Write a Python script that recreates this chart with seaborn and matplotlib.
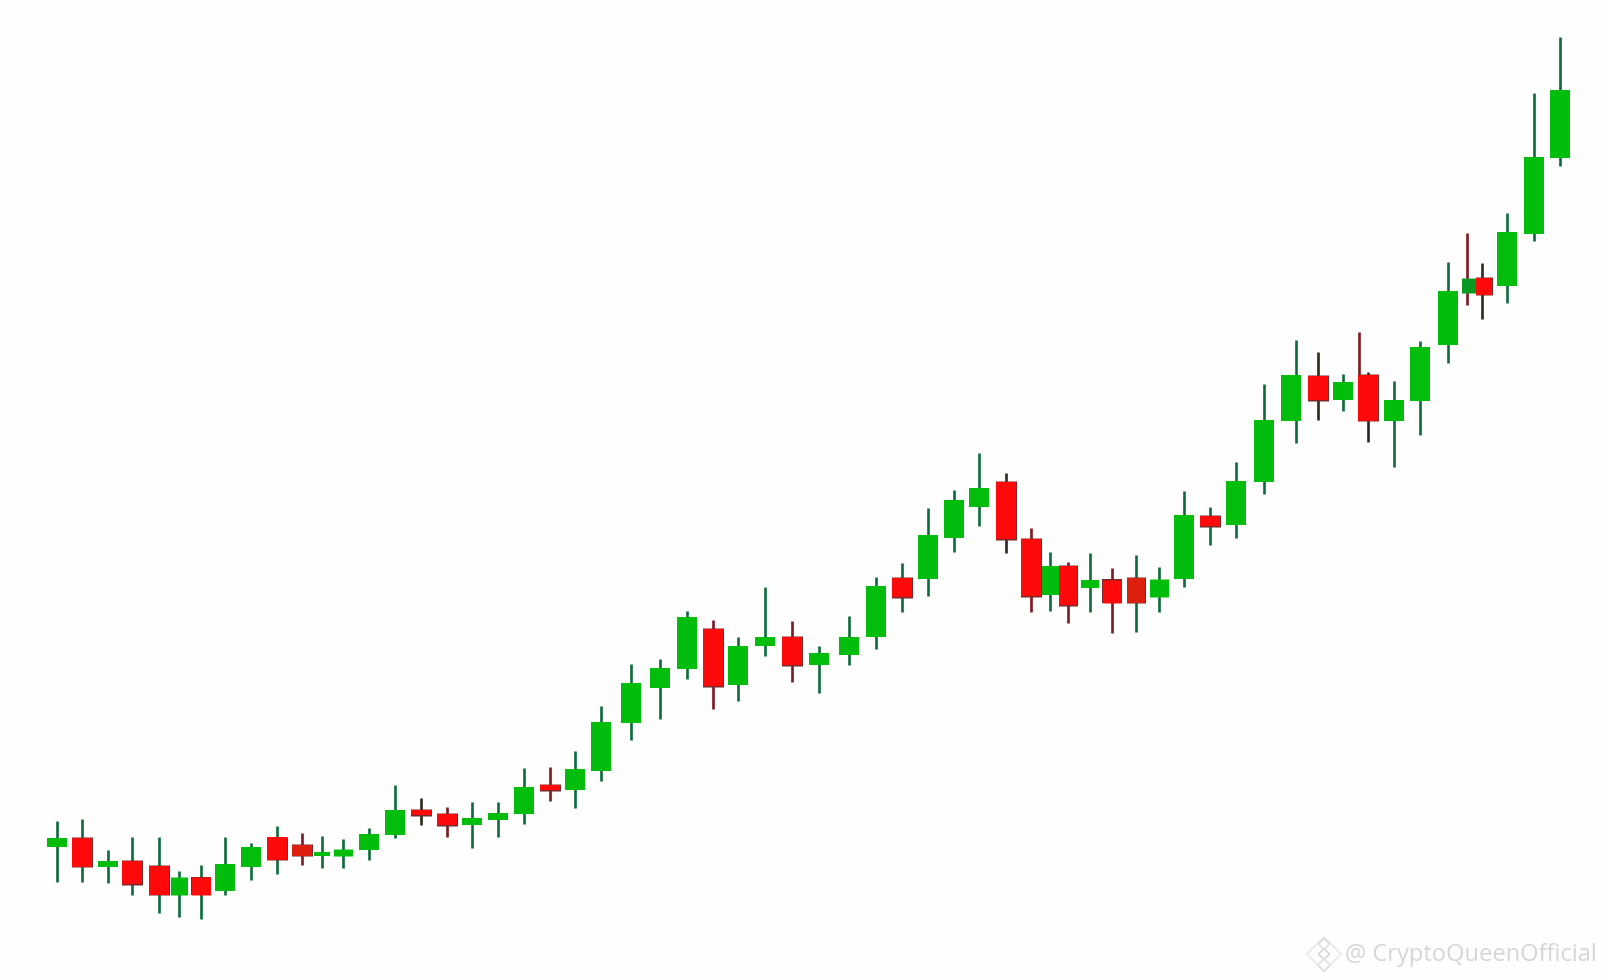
#!/usr/bin/env python3
import pandas as pd
import matplotlib
matplotlib.use('Agg')
import matplotlib.pyplot as plt
import seaborn as sns

# Candle values (the chart has no scale, so units are picture rows)
body_x = [57.2, 82.3, 107.8, 132.2, 158.7, 179.4, 200.8, 224.9, 251, 277.2,
          302.3, 321.6, 342.6, 368.8, 395, 420.8, 446.6, 472.1, 497.9, 524.1,
          549.7, 574.7, 600.7, 630.7, 659.5, 687, 712.8, 737.6, 764.5, 792.4,
          819.2, 848.5, 876.4, 902.2, 927.7, 953.5, 979, 1005.5, 1031.4, 1050,
          1067.5, 1089.5, 1112.3, 1135.5, 1158.6, 1184, 1210, 1236.4, 1264.2, 1291.4,
          1317.8, 1342.7, 1368, 1394.4, 1420, 1447.7, 1469.3, 1483.7, 1506.7, 1533.7,
          1559.7]
wick_x = list(body_x)
wick_x[49] = 1296.4
wick_x[56] = 1467
wick_x[57] = 1481.7

wick_top = [822, 819.7, 851, 838, 838, 872.3, 866, 838, 844, 827.3,
            833.7, 837, 839.7, 828.7, 786.3, 798.7, 807.7, 803, 803.3, 769,
            768.3, 752.3, 707.3, 665, 660.3, 611.7, 620.7, 638, 587.7, 621.7,
            647, 616.7, 577.7, 564.3, 508.7, 491.3, 454.3, 473.7, 529.3, 553,
            563.3, 554.3, 569.3, 556.3, 568, 491.7, 507.7, 462.7, 385, 341.3,
            353.3, 375.3, 372.7, 382.3, 341.7, 263, 234, 263.7, 214, 94.3,
            38]
body_top = [839, 839, 862.3, 861.7, 866.7, 878.3, 878.3, 865.3, 848.3, 838.3,
            846, 852.7, 850, 835.3, 811.3, 811, 815, 819.3, 814.3, 788,
            786, 770.3, 723.3, 684, 669.3, 617.7, 630, 646.7, 637.7, 637.7,
            653.7, 637.7, 586.7, 578.7, 536.3, 500.7, 488.7, 482.7, 539.7, 566.7,
            566.7, 581, 580.7, 578.7, 580, 516.3, 516.7, 482.3, 421.3, 376.3,
            376.7, 383, 376, 401.3, 348, 292, 279, 279, 233.3, 158.3,
            91.3]
body_bottom = [848.3, 867.7, 868, 885.3, 895.7, 895.7, 895.7, 892, 868, 860.7,
               856.7, 856.7, 856.7, 851.3, 836.3, 816.3, 826, 825.7, 820.7, 815.3,
               791, 790.7, 771.7, 724, 688.7, 670.3, 687, 686.3, 647.3, 666.3,
               666.3, 655.7, 638, 598, 580, 538.7, 507.7, 540.3, 597, 596,
               606.3, 589, 603.7, 603.7, 598, 580.3, 527.3, 525.7, 483, 421.7,
               401, 400.7, 421.7, 422, 401.7, 346.3, 294, 295.7, 286.7, 234.7,
               159.3]
wick_bottom = [882.7, 882.7, 883.7, 895.7, 913.7, 918.3, 920, 896, 880.7, 874.7,
               865.7, 869.3, 869.3, 860.7, 838.7, 825.7, 838.3, 848.7, 838.3, 824.7,
               801.7, 809.3, 781.7, 741, 720.3, 679.7, 710, 702, 657, 683,
               694, 665.7, 649.7, 612.7, 597, 553, 527.3, 553.7, 612.7, 611.7,
               623.7, 612.7, 634, 632.7, 613, 588, 546, 539.3, 494.7, 444,
               421.3, 411.7, 443.3, 468.3, 436, 364.3, 305.7, 320.3, 304, 242.3,
               166.7]
body_w = [20, 20, 20, 20, 20, 17, 19, 20, 20, 20,
          20, 16, 19, 20, 20, 20, 20, 20, 20, 20,
          20, 20, 20, 20, 20, 20, 20, 20, 20, 20,
          20, 20, 20, 20, 20, 20, 20, 20, 20, 18,
          18, 18, 19, 18, 19, 20, 20, 20, 20, 20,
          20, 20, 20, 20, 20, 20, 15, 16, 20, 20,
          20]
# u = up, d = down, U / D = the darker candles
kinds = (['u', 'd', 'u', 'd', 'd', 'u', 'd', 'u', 'u', 'd']
         + ['D', 'u', 'u', 'u', 'u', 'd', 'd', 'u', 'u', 'u']
         + ['d', 'u', 'u', 'u', 'u', 'u', 'd', 'u', 'u', 'd']
         + ['u', 'u', 'u', 'd', 'u', 'u', 'u', 'd', 'd', 'u']
         + ['d', 'u', 'd', 'D', 'u', 'u', 'd', 'u', 'u', 'u']
         + ['d', 'u', 'd', 'u', 'u', 'u', 'U', 'd', 'u', 'u']
         + ['u'])
# wick shade of each candle: g = dark green, r = dark red, k = near black
wick_tones = (['g', 'g', 'g', 'g', 'g', 'g', 'g', 'g', 'g', 'g']
              + ['r', 'g', 'g', 'g', 'g', 'k', 'r', 'g', 'g', 'g']
              + ['r', 'g', 'g', 'g', 'g', 'g', 'r', 'g', 'g', 'r']
              + ['g', 'g', 'g', 'g', 'g', 'g', 'g', 'k', 'r', 'g']
              + ['r', 'g', 'r', 'g', 'g', 'g', 'g', 'g', 'g', 'g']
              + ['k', 'g', 'k', 'g', 'g', 'g', 'r', 'k', 'g', 'g']
              + ['g'])
# stray second wick that sits next to the tall red candle
stray_x = [1359]
stray_top = [333.3]
stray_bottom = [385.7]

watermark = '@ CryptoQueenOfficial'

body_colors = {'u': '#02bd0b', 'U': '#0a9a22', 'd': '#fe0a0a', 'D': '#dc2010'}
wick_colors = {'g': '#0b6b3a', 'r': '#7e1a20', 'k': '#2c2a1c'}
EDGE = '#7a2a2a'

sns.set_theme(style='white')
fig, ax = plt.subplots(figsize=(16.07, 9.79), dpi=100, facecolor='#fefefe')
ax.set_position([0, 0, 1, 1])
ax.set_facecolor('#fefefe')

candles = pd.DataFrame({'candle': range(len(body_x)), 'x': body_x, 'wx': wick_x, 'wt': wick_top,
                        'bt': body_top, 'bb': body_bottom, 'wb': wick_bottom,
                        'w': body_w, 'kind': kinds, 'tone': wick_tones})

# wicks, one two point line per candle
rows = []
for c in candles.itertuples():
    rows.append({'candle': c.candle, 'x': c.wx, 'y': c.wt, 'tone': c.tone})
    rows.append({'candle': c.candle, 'x': c.wx, 'y': c.wb, 'tone': c.tone})
for i in range(len(stray_x)):
    rows.append({'candle': 100 + i, 'x': stray_x[i], 'y': stray_top[i], 'tone': 'r'})
    rows.append({'candle': 100 + i, 'x': stray_x[i], 'y': stray_bottom[i], 'tone': 'r'})
wicks = pd.DataFrame(rows)
sns.lineplot(data=wicks, x='x', y='y', units='candle', estimator=None, sort=False, hue='tone',
             palette=wick_colors, linewidth=1.9, solid_capstyle='butt', legend=False, ax=ax)

# bodies are thick butt capped lines, so each can keep its own width
bodies = candles.melt(id_vars=['candle', 'x', 'w', 'kind'], value_vars=['bt', 'bb'],
                      var_name='end', value_name='y').sort_values(['candle', 'end'])
widths_pt = {w: w * 0.72 for w in sorted(set(body_w))}

up = bodies[bodies['kind'].isin(['u', 'U'])]
sns.lineplot(data=up, x='x', y='y', units='candle', estimator=None, sort=False, hue='kind',
             palette=body_colors, size='w', sizes=widths_pt, solid_capstyle='butt',
             legend=False, ax=ax)

# red candles get a thin dark edge
down = bodies[bodies['kind'].isin(['d', 'D'])].copy()
edge = down.copy()
edge['y'] = edge['y'] + edge['end'].map({'bt': -0.7, 'bb': 0.7})
sns.lineplot(data=edge, x='x', y='y', units='candle', estimator=None, sort=False, color=EDGE,
             size='w', sizes={w: (w + 1.0) * 0.72 for w in sorted(set(body_w))},
             solid_capstyle='butt', legend=False, ax=ax)
sns.lineplot(data=down, x='x', y='y', units='candle', estimator=None, sort=False, hue='kind',
             palette=body_colors, size='w', sizes=widths_pt, solid_capstyle='butt',
             legend=False, ax=ax)

# watermark
ax.scatter([1324, 1324, 1324, 1324], [955, 955, 945, 966], marker='D', s=[30, 300, 30, 40],
           facecolor='none', edgecolor=['#d4d4d4', '#e6e6e6', '#dedede', '#dedede'], linewidth=1.1)
ax.text(1345, 955, watermark, family='Open Sans', fontsize=17, color='#d6d6d6',
        va='center', ha='left')

ax.set_xlim(0, 1607)
ax.set_ylim(979, 0)
ax.set_xlabel('')
ax.set_ylabel('')
ax.set_xticks([])
ax.set_yticks([])
sns.despine(ax=ax, left=True, bottom=True)

plt.savefig('out.png', dpi=100, facecolor=fig.get_facecolor())
